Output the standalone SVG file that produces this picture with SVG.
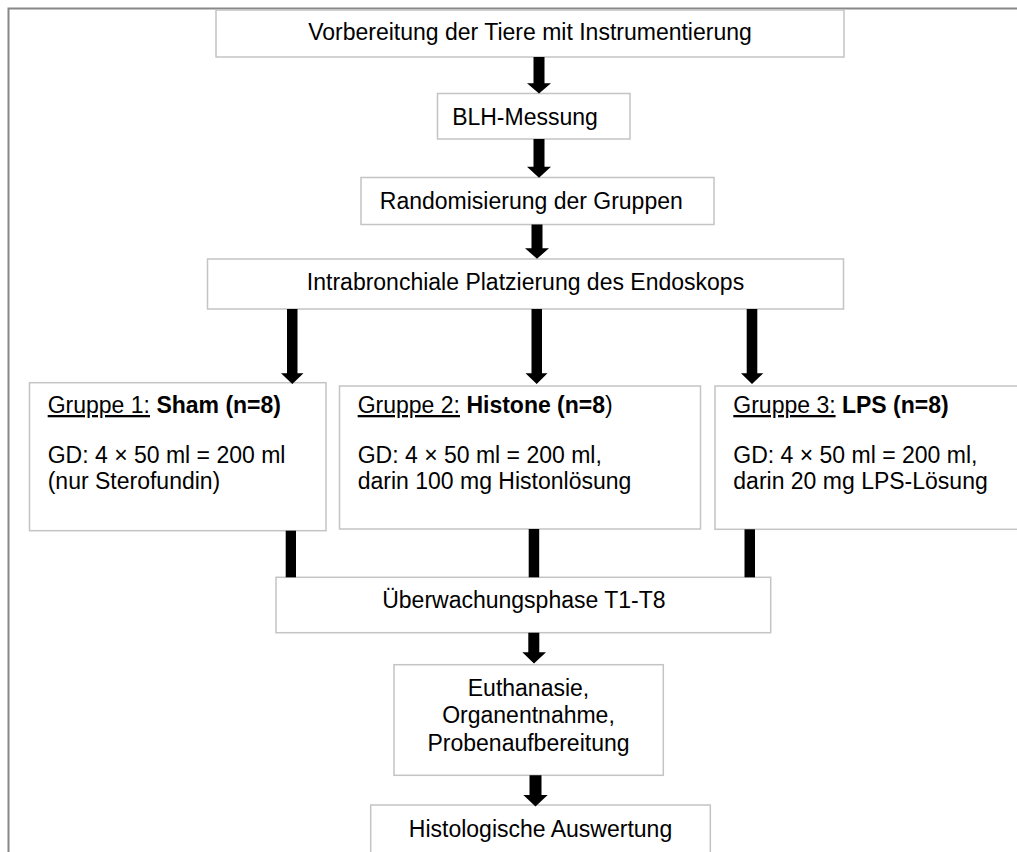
<svg xmlns="http://www.w3.org/2000/svg" width="1017" height="852" viewBox="0 0 1017 852">
<style>
.box{fill:#fff;stroke:#c4c4c4;stroke-width:1.5}
.t{font-family:"Liberation Sans",Arial,sans-serif;font-size:23px;fill:#000}
.c{text-anchor:middle}
.b{font-weight:bold}
.u{text-decoration:underline}
.ar{fill:#000}
</style>
<rect x="0" y="0" width="1017" height="852" fill="#fff"/>
<rect x="8.5" y="8.5" width="1100" height="1000" fill="none" stroke="#888" stroke-width="2"/>
<g id="n1"><rect class="box" x="216" y="10" width="628" height="47"/><text class="t c" x="530" y="40">Vorbereitung der Tiere mit Instrumentierung</text></g>
<g id="n2"><rect class="box" x="437.5" y="93.5" width="192.5" height="45.5"/><text class="t c" x="525" y="125">BLH-Messung</text></g>
<g id="n3"><rect class="box" x="361" y="177.5" width="353" height="47"/><text class="t c" x="531.3" y="208.5">Randomisierung der Gruppen</text></g>
<g id="n4"><rect class="box" x="207.5" y="259" width="636" height="50"/><text class="t c" x="525.5" y="289.5">Intrabronchiale Platzierung des Endoskops</text></g>
<g id="g1"><rect class="box" x="29.5" y="382.7" width="296.5" height="148"/>
<text class="t" x="47.7" y="413"><tspan class="u">Gruppe 1:</tspan> <tspan class="b">Sham (n=8)</tspan></text>
<text class="t" x="47.7" y="463">GD: 4 × 50 ml = 200 ml</text>
<text class="t" x="47.7" y="489">(nur Sterofundin)</text></g>
<g id="g2"><rect class="box" x="339.5" y="386" width="361" height="143"/>
<text class="t" x="357.7" y="413"><tspan class="u">Gruppe 2:</tspan> <tspan class="b">Histone (n=8</tspan>)</text>
<text class="t" x="357.7" y="463">GD: 4 × 50 ml = 200 ml,</text>
<text class="t" x="357.7" y="489">darin 100 mg Histonlösung</text></g>
<g id="g3"><rect class="box" x="715" y="386" width="400" height="143.3"/>
<text class="t" x="733.3" y="413"><tspan class="u">Gruppe 3:</tspan> <tspan class="b">LPS (n=8)</tspan></text>
<text class="t" x="733.3" y="463">GD: 4 × 50 ml = 200 ml,</text>
<text class="t" x="733.3" y="489">darin 20 mg LPS-Lösung</text></g>
<g id="n5"><rect class="box" x="276" y="577.3" width="494.7" height="55.4"/><text class="t c" x="523.9" y="608.3">Überwachungsphase T1-T8</text></g>
<g id="n6"><rect class="box" x="394" y="664.7" width="269.3" height="110.6"/>
<text class="t c" x="528.5" y="695.7">Euthanasie,</text>
<text class="t c" x="528.5" y="723.3">Organentnahme,</text>
<text class="t c" x="528.5" y="751">Probenaufbereitung</text></g>
<g id="n7"><rect class="box" x="370.7" y="805" width="339.6" height="80"/><text class="t c" x="540.5" y="836.7">Histologische Auswertung</text></g>
<g id="connectors">
<polygon class="ar" points="533.5,57 544.5,57 544.5,83.3 551,83.3 539,93.5 527,83.3 533.5,83.3"/>
<polygon class="ar" points="533.5,139 544.5,139 544.5,166.7 551,166.7 539,177.7 527,166.7 533.5,166.7"/>
<polygon class="ar" points="531.5,224.5 542.5,224.5 542.5,248.3 549,248.3 537,258.7 525,248.3 531.5,248.3"/>
<polygon class="ar" points="287,309 297.5,309 297.5,373.3 303.5,373.3 292.3,384 281,373.3 287,373.3"/>
<polygon class="ar" points="531.5,309 542,309 542,373.3 547.5,373.3 536.7,384 525.5,373.3 531.5,373.3"/>
<polygon class="ar" points="746.7,309 757.3,309 757.3,373.3 763.3,373.3 752,384 741,373.3 746.7,373.3"/>
<rect class="ar" x="285.7" y="530.7" width="10.3" height="46.6"/>
<rect class="ar" x="528.7" y="529" width="10.5" height="48.3"/>
<rect class="ar" x="744.5" y="529.3" width="10.5" height="48"/>
<polygon class="ar" points="528.3,632.7 539.3,632.7 539.3,652.3 546,652.3 534,663.5 522.3,652.3 528.3,652.3"/>
<polygon class="ar" points="529.5,775.3 541.5,775.3 541.5,795 547.7,795 535.5,806.5 523.3,795 529.5,795"/>
</g>
</svg>
